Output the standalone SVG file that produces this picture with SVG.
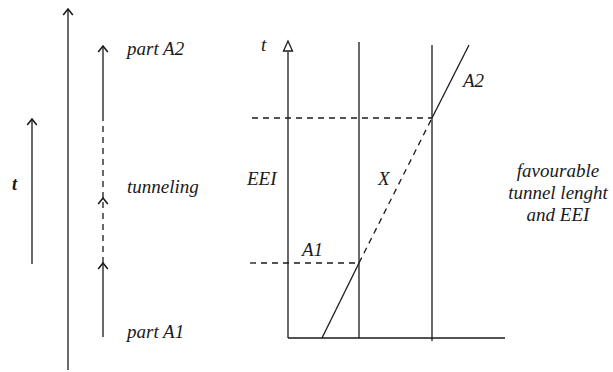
<svg xmlns="http://www.w3.org/2000/svg" width="613" height="372" viewBox="0 0 613 372">
<style>
.ln{stroke:#1a1a1a;stroke-width:1.3;fill:none}
.ds{stroke:#1a1a1a;stroke-width:1.3;fill:none;stroke-dasharray:6,5}
.lb{font-family:"Liberation Serif","Times New Roman","DejaVu Serif",serif;font-style:italic;font-size:19px;fill:#1a1a1a}
.bt{font-family:"Liberation Serif","Times New Roman","DejaVu Serif",serif;font-style:italic;font-weight:bold;font-size:18px;fill:#1a1a1a}
</style>
<defs>
<marker id="chev" markerWidth="12" markerHeight="12" refX="9" refY="5" orient="auto" markerUnits="userSpaceOnUse" viewBox="0 0 10 10">
<path d="M4,1 L9,5 L4,9" stroke="#1a1a1a" stroke-width="1.3" fill="none"/>
</marker>
</defs>
<rect width="613" height="372" fill="#fff"/>
<g id="connectors">
<line class="ln" x1="68" y1="370" x2="68" y2="9" marker-end="url(#chev)"/>
<line class="ln" x1="32" y1="264" x2="32" y2="119" marker-end="url(#chev)"/>
<line class="ln" x1="103" y1="337" x2="103" y2="263" marker-end="url(#chev)"/>
<line class="ds" x1="103" y1="263" x2="103" y2="198" marker-end="url(#chev)"/>
<line class="ds" x1="103" y1="198" x2="103" y2="118"/>
<line class="ln" x1="103" y1="118" x2="103" y2="46" marker-end="url(#chev)"/>
</g>
<g id="chart">
<line class="ln" x1="288" y1="338" x2="288" y2="52"/>
<path d="M288,41 L283.5,51 L292.5,51 Z" stroke="#1a1a1a" stroke-width="1.3" fill="#fff"/>
<line class="ln" x1="288" y1="338" x2="505" y2="338"/>
<line class="ln" x1="359" y1="42" x2="359" y2="338"/>
<line class="ln" x1="432" y1="45" x2="432" y2="341"/>
<line class="ds" x1="252" y1="118" x2="432" y2="118"/>
<line class="ds" x1="250" y1="263" x2="359" y2="263"/>
<line class="ln" x1="322" y1="338" x2="359" y2="263"/>
<line class="ds" x1="359" y1="263" x2="432" y2="118"/>
<line class="ln" x1="432" y1="118" x2="469" y2="45"/>
</g>
<g id="labels">
<text class="bt" x="12" y="190">t</text>
<text class="lb" x="127" y="55">part A2</text>
<text class="lb" x="127" y="193">tunneling</text>
<text class="lb" x="127" y="338">part A1</text>
<text class="lb" x="261" y="51">t</text>
<text class="lb" x="463" y="87">A2</text>
<text class="lb" x="247" y="185">EEI</text>
<text class="lb" x="378" y="185">X</text>
<text class="lb" x="302" y="256">A1</text>
<text class="lb" x="558" y="177" text-anchor="middle">favourable</text>
<text class="lb" x="558" y="199" text-anchor="middle">tunnel lenght</text>
<text class="lb" x="558" y="221" text-anchor="middle">and EEI</text>
</g>
</svg>
